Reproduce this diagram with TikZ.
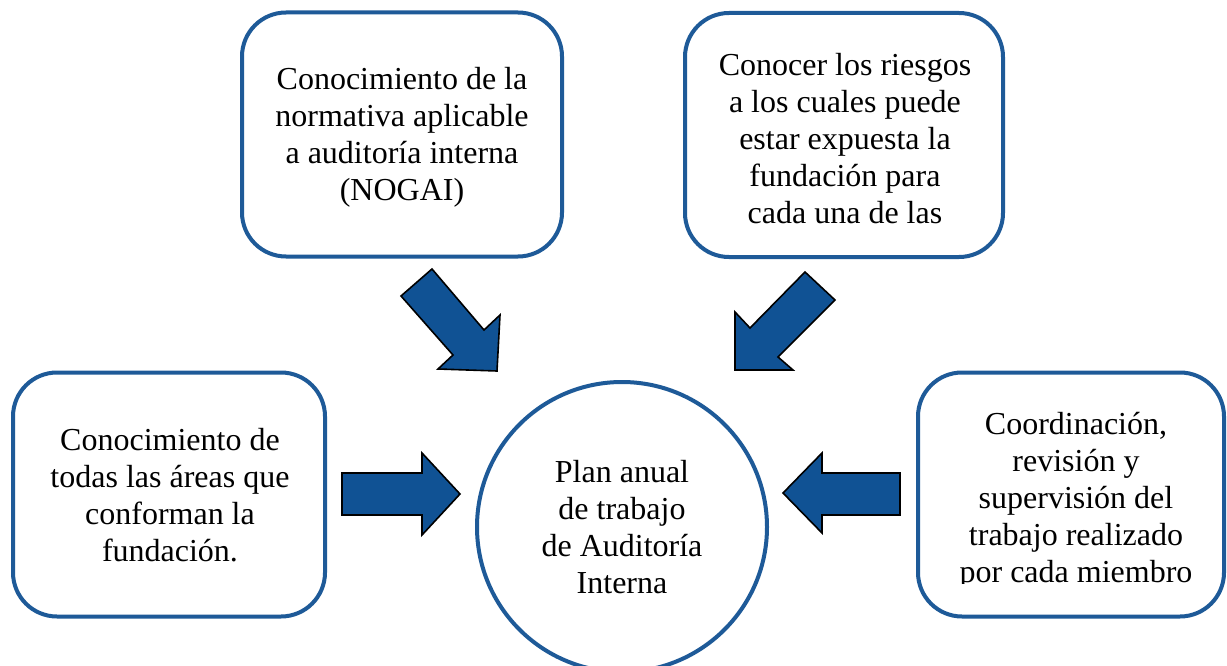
\documentclass[tikz,border=0pt]{standalone}
\usepackage{fontspec}
\setmainfont{Liberation Serif}
\definecolor{boxblue}{RGB}{30,90,152}
\definecolor{arrowblue}{RGB}{16,82,148}
\begin{document}
\begin{tikzpicture}[x=1pt,y=-1pt,
  txt/.style={align=center, inner sep=0pt, font=\fontsize{32}{37}\selectfont},
  box/.style={draw=boxblue, line width=4pt, rounded corners=44pt, fill=white, minimum height=244pt},
  hub/.style={txt, circle, draw=boxblue, line width=4pt, fill=white, minimum size=290pt},
  blockarrow/.style={fill=arrowblue, draw=black, line width=1.6pt, line join=miter}]
\useasboundingbox (0,0) rectangle (1227,666);
\fill[white] (0,0) rectangle (1227,666);

% boxes
\node[box, minimum width=320pt] (norm) at (402,134.5) {};
\node[txt] (normtext) at (402,137.5)
  {Conocimiento de la\\normativa aplicable\\a auditoría interna\\(NOGAI)};
\node[box, minimum width=318pt] (risk) at (844,135) {};
\node[txt] (risktext) at (845,139)
  {Conocer los riesgos\\a los cuales puede\\estar expuesta la\\fundación para\\cada una de las};
\node[box, minimum width=312pt] (areas) at (169,494.5) {};
\node[txt] (areastext) at (170,495)
  {Conocimiento de\\todas las áreas que\\conforman la\\fundación.};
\node[box, minimum width=306pt] (coord) at (1071,494.5) {};
\begin{scope}
  \clip (917,372) rectangle (1225,583);
  \node[txt] (coordtext) at (1076,501) {Coordinación,\\revisión y\\supervisión del\\trabajo realizado\\por cada miembro};
\end{scope}

% centre
\node[hub] (plan) at (622,527) {Plan anual\\de trabajo\\de Auditoría\\Interna};

% block arrows
\draw[blockarrow] (401,296) -- (432,269) -- (484,330) -- (500,315) -- (497,371) -- (438,369) -- (453,355) -- cycle;
\draw[blockarrow] (805,272) -- (835,300) -- (778,357) -- (793,370) -- (735,370) -- (735,312) -- (750,328) -- cycle;
\draw[blockarrow] (342,473) -- (422,473) -- (422,453) -- (460,494) -- (422,535) -- (422,515) -- (342,515) -- cycle;
\draw[blockarrow] (900,473) -- (822,473) -- (822,453) -- (783,493) -- (822,533) -- (822,515) -- (900,515) -- cycle;
\end{tikzpicture}
\end{document}
